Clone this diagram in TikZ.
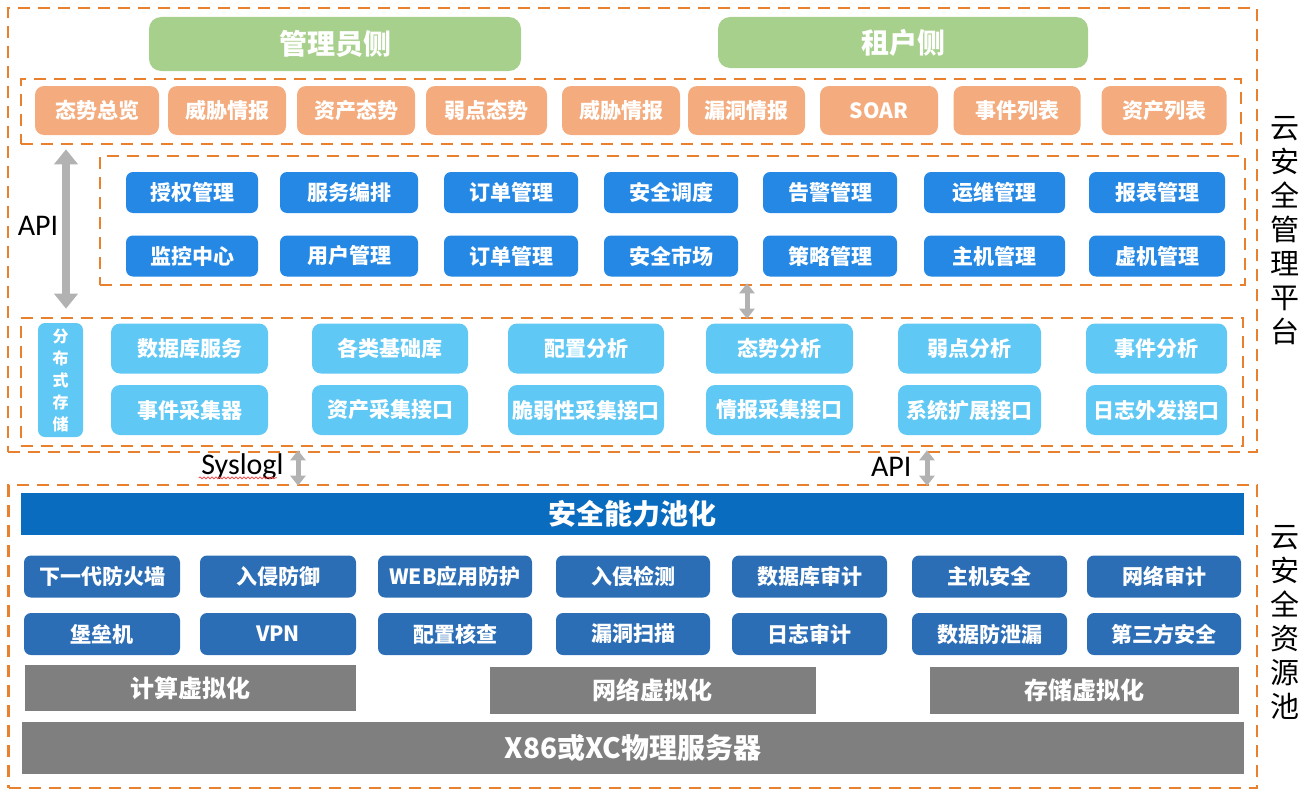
\documentclass[tikz,border=0pt]{standalone}
\usepackage{fontspec}
\setmainfont{Noto Sans CJK SC}
\newfontfamily\latinfont{Carlito}
\usetikzlibrary{arrows.meta,fit,decorations.pathmorphing}

\definecolor{dashorange}{RGB}{232,128,46}
\definecolor{headgreen}{RGB}{168,208,141}
\definecolor{sitorange}{RGB}{244,172,126}
\definecolor{mgblue}{RGB}{36,136,228}
\definecolor{dataskyblue}{RGB}{96,200,244}
\definecolor{poolblue}{RGB}{10,108,190}
\definecolor{capblue}{RGB}{44,110,182}
\definecolor{virtgray}{RGB}{127,127,127}
\definecolor{arrowgray}{RGB}{178,178,178}

\begin{document}
\begin{tikzpicture}[x=1pt, y=-1pt]
    % Define styles
    \tikzset{
        dashframe/.style={
            draw=dashorange,
            line width=2.6pt,
            dash pattern=on 12pt off 8pt,
            inner sep=0pt
        },
        tilebase/.style={
            rounded corners=7pt,
            text=white,
            inner sep=0pt,
            font=\fontsize{21}{24}\selectfont\bfseries
        },
        headtile/.style={
            tilebase,
            fill=headgreen,
            rounded corners=12pt,
            font=\fontsize{28}{30}\selectfont\bfseries
        },
        sittile/.style={tilebase, fill=sitorange, rounded corners=9pt, minimum height=49pt},
        mgtile/.style={tilebase, fill=mgblue, minimum height=41pt},
        datatile/.style={tilebase, fill=dataskyblue, rounded corners=9pt, minimum height=50pt},
        captile/.style={tilebase, fill=capblue, minimum height=42pt},
        graybar/.style={
            fill=virtgray,
            text=white,
            inner sep=0pt,
            font=\fontsize{24}{26}\selectfont\bfseries
        },
        sidelabel/.style={
            align=center,
            font=\fontsize{29}{34}\selectfont
        },
        biglink/.style={
            draw=arrowgray,
            line width=8pt,
            {Triangle[width=23pt,length=15pt]}-{Triangle[width=23pt,length=15pt]}
        },
        smalllink/.style={
            draw=arrowgray,
            line width=5pt,
            {Triangle[width=15pt,length=10pt]}-{Triangle[width=15pt,length=10pt]}
        },
        linklabel/.style={
            font=\latinfont\fontsize{30}{32}\selectfont
        }
    }

    \useasboundingbox (0,0) rectangle (1308,800);

    % Dashed frames
    \node[dashframe, fit={(8,8) (1257,452)}] (platform) {};
    \node[dashframe, fit={(21,79) (1241,144)}] (sitRow) {};
    \node[dashframe, fit={(100,156) (1245,285)}] (mgRow) {};
    \node[dashframe, fit={(21,318) (1243,446)}] (dataRow) {};
    \node[dashframe, fit={(8.5,485) (1257,788)}] (pool) {};

    % Admin side and tenant side
    \node[headtile, minimum width=372pt, minimum height=54pt] (admin) at (335,44) {管理员侧};
    \node[headtile, minimum width=370pt, minimum height=51pt] (tenant) at (903,42.5) {租户侧};

    % Situation views
    \foreach \i/\cx/\w/\t in {1/97/124/态势总览, 2/227/118/威胁情报, 3/356/118/资产态势,
            4/486.5/121/弱点态势, 5/621/118/威胁情报, 6/746.5/117/漏洞情报,
            7/879/118/SOAR, 8/1017/127/事件列表, 9/1164/125/资产列表}
        \node[sittile, minimum width=\w] (sit\i) at (\cx,110.5) {\t};

    % Management functions
    \foreach \i/\cx/\w/\ta/\tb in {1/192/132/授权管理/监控中心, 2/349/138/服务编排/用户管理,
            3/511/134/订单管理/订单管理, 4/671/134/安全调度/安全市场, 5/830/134/告警管理/策略管理,
            6/994.5/141/运维管理/主机管理, 7/1157/136/报表管理/虚机管理}
    {
        \node[mgtile, minimum width=\w] (mgA\i) at (\cx,192.5) {\ta};
        \node[mgtile, minimum width=\w] (mgB\i) at (\cx,256) {\tb};
    }

    % Data services and collectors
    \node[datatile, rounded corners=7pt, minimum width=45pt, minimum height=114pt, align=center,
        font=\fontsize{16}{22}\selectfont\bfseries] (store) at (60.5,380) {分\\布\\式\\存\\储};
    \foreach \i/\cx/\w/\ta/\tb in {1/189.5/157/数据库服务/事件采集器, 2/390/156/各类基础库/资产采集接口,
            3/586/156/配置分析/脆弱性采集接口, 4/779.5/147/态势分析/情报采集接口,
            5/969.5/143/弱点分析/系统扩展接口, 6/1156.5/141/事件分析/日志外发接口}
    {
        \node[datatile, minimum width=\w] (dataA\i) at (\cx,348.5) {\ta};
        \node[datatile, minimum width=\w] (dataB\i) at (\cx,410) {\tb};
    }

    % Security capability pool
    \node[fill=poolblue, text=white, inner sep=0pt, minimum width=1223pt, minimum height=42pt,
        font=\fontsize{28}{30}\selectfont\bfseries] (poolBar) at (632.5,514) {安全能力池化};
    \foreach \i/\cx/\w/\ta/\tb in {1/102/156/下一代防火墙/堡垒机, 2/278/156/入侵防御/VPN,
            3/455/154/WEB应用防护/配置核查, 4/633/154/入侵检测/漏洞扫描, 5/809.5/155/数据库审计/日志审计,
            6/989.5/155/主机安全/数据防泄漏, 7/1164/154/网络审计/第三方安全}
    {
        \node[captile, minimum width=\w] (capA\i) at (\cx,576.5) {\ta};
        \node[captile, minimum width=\w] (capB\i) at (\cx,634) {\tb};
    }

    % Virtualisation and hardware
    \node[graybar, minimum width=331pt, minimum height=46pt] (compute) at (190.5,688) {计算虚拟化};
    \node[graybar, minimum width=326pt, minimum height=47pt] (network) at (652.75,690.5) {网络虚拟化};
    \node[graybar, minimum width=309pt, minimum height=47pt] (storage) at (1084.5,690.5) {存储虚拟化};
    \node[graybar, minimum width=1222pt, minimum height=52pt,
        font=\fontsize{28}{30}\selectfont\bfseries] (server) at (633,748) {X86或XC物理服务器};

    % Side labels
    \node[sidelabel] (platformLbl) at (1285,230.5) {云\\安\\全\\管\\理\\平\\台};
    \node[sidelabel] (poolLbl) at (1285,622.5) {云\\安\\全\\资\\源\\池};

    % Links between layers
    \coordinate (apiX) at (66,0);
    \coordinate (midX) at (747,0);
    \coordinate (sysX) at (298,0);
    \coordinate (api2X) at (927,0);
    \draw[biglink, shorten <=4pt, shorten >=8pt] (sitRow.south -| apiX) -- (dataRow.north -| apiX);
    \draw[smalllink, shorten <=-3pt, shorten >=-2pt] (mgRow.south -| midX) -- (dataRow.north -| midX);
    \draw[smalllink, shorten <=-3pt, shorten >=-2pt] (platform.south -| sysX) -- (pool.north -| sysX);
    \draw[smalllink, shorten <=-3pt, shorten >=-2pt] (platform.south -| api2X) -- (pool.north -| api2X);

    % Labels
    \node[linklabel] (apiLbl) at (38,226) {API};
    \node[linklabel, anchor=east] (sysLbl) at (287,467) {Syslogl};
    \node[linklabel, anchor=east] (api2Lbl) at (915,467) {API};
    \draw[red!75, line width=0.8pt, decorate, decoration={snake, amplitude=0.9pt, segment length=4pt}]
        ([xshift=1pt,yshift=-3pt]sysLbl.base west) -- ([xshift=-10pt,yshift=-3pt]sysLbl.base east);

\end{tikzpicture}
\end{document}
